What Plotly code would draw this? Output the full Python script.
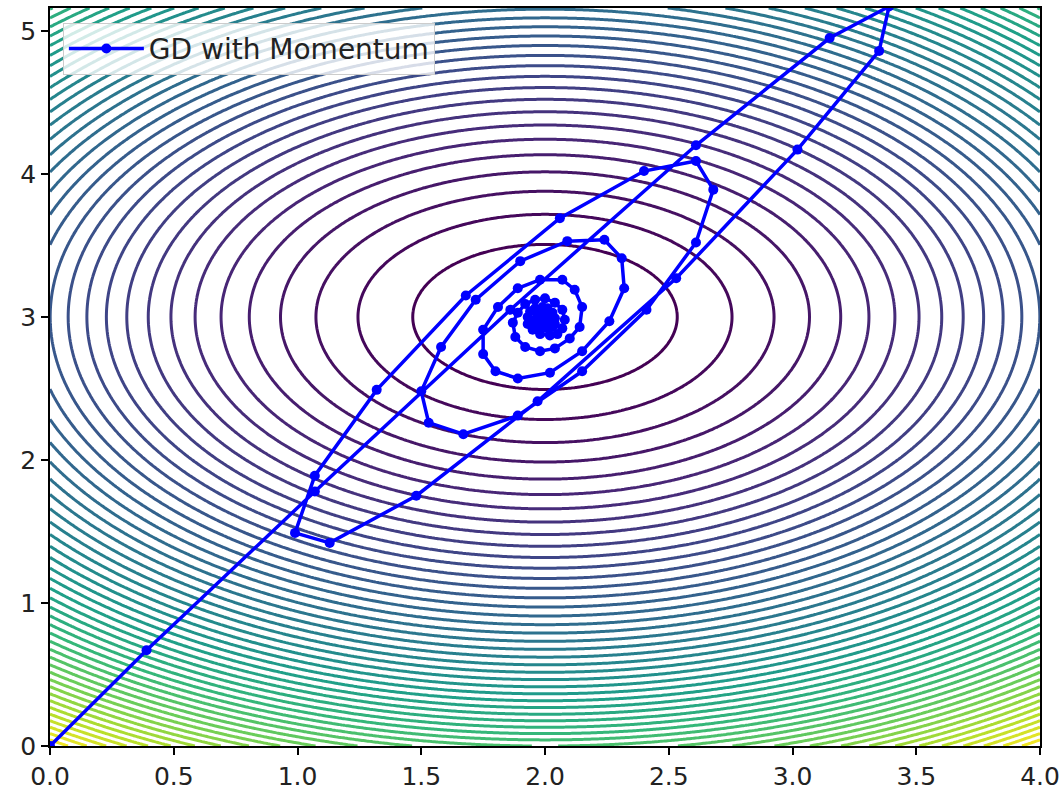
import numpy as np
import plotly.graph_objects as go

# Quadratic bowl f(x, y) = COEF_X*(x-CX)^2 + COEF_Y*(y-CY)^2 shown as contour lines
CX, CY = 2.0, 3.0
COEF_X, COEF_Y = 1.0, 1.11
X_RANGE = [0.0, 4.0]
Y_RANGE = [0.0, 5.16]
N_LEVELS = 50

# Iterates of gradient descent with momentum, starting at the origin
path_x = [0.00, 0.39, 1.07, 1.86, 2.61, 3.15, 3.39, 3.35, 3.02, 2.53,
          1.97, 1.48, 1.13, 0.99, 1.07, 1.32, 1.68, 2.06, 2.40, 2.61,
          2.68, 2.61, 2.41, 2.15, 1.89, 1.67, 1.53, 1.50, 1.58, 1.72,
          1.90, 2.09, 2.24, 2.31, 2.32, 2.26, 2.15, 2.02, 1.89, 1.80,
          1.75, 1.75, 1.81, 1.89, 1.98, 2.07, 2.12, 2.15, 2.14, 2.10,
          2.04, 1.98, 1.92, 1.88, 1.87, 1.89, 1.92, 1.96, 2.00, 2.04,
          2.07, 2.08, 2.07, 2.05, 2.02, 1.98, 1.95, 1.93, 1.93, 1.94,
          1.96, 1.99, 2.01, 2.03, 2.04, 2.04, 2.03, 2.01, 1.98, 1.96,
          1.96, 1.97, 1.99, 2.00, 2.02, 2.02, 2.01, 1.99, 1.98, 1.99]
path_y = [0.00, 0.67, 1.78, 3.05, 4.20, 4.95, 5.17, 4.86, 4.17, 3.27,
          2.41, 1.75, 1.42, 1.49, 1.89, 2.49, 3.15, 3.69, 4.02, 4.09,
          3.89, 3.52, 3.05, 2.62, 2.31, 2.18, 2.26, 2.48, 2.79, 3.12,
          3.39, 3.53, 3.54, 3.41, 3.20, 2.97, 2.76, 2.61, 2.57, 2.62,
          2.74, 2.91, 3.07, 3.20, 3.26, 3.26, 3.19, 3.07, 2.93, 2.85,
          2.78, 2.76, 2.79, 2.86, 2.96, 3.03, 3.09, 3.12, 3.13, 3.10,
          3.05, 2.98, 2.92, 2.88, 2.87, 2.88, 2.91, 2.95, 3.00, 3.04,
          3.06, 3.07, 3.06, 3.03, 2.99, 2.95, 2.93, 2.92, 2.93, 2.95,
          2.98, 3.01, 3.02, 3.02, 3.00, 2.98, 2.96, 2.96, 2.97, 2.99]

x_tick_vals = [0.0, 0.5, 1.0, 1.5, 2.0, 2.5, 3.0, 3.5, 4.0]
x_tick_text = ["0.0", "0.5", "1.0", "1.5", "2.0", "2.5", "3.0", "3.5", "4.0"]
y_tick_vals = [0, 1, 2, 3, 4, 5]
y_tick_text = ["0", "1", "2", "3", "4", "5"]

gx = np.linspace(X_RANGE[0], X_RANGE[1], 320)
gy = np.linspace(Y_RANGE[0], Y_RANGE[1], 320)
GX, GY = np.meshgrid(gx, gy)
Z = COEF_X * (GX - CX) ** 2 + COEF_Y * (GY - CY) ** 2
z_max = float(Z.max())
step = z_max / (N_LEVELS - 1)

FONT = "DejaVu Sans"

fig = go.Figure()
fig.add_trace(go.Contour(
    x=gx, y=gy, z=Z,
    colorscale="Viridis",
    zmin=step, zmax=z_max,
    contours=dict(coloring="lines", start=step, end=z_max, size=step),
    line=dict(width=3),
    showscale=False,
    hoverinfo="skip",
    showlegend=False,
))
fig.add_trace(go.Scatter(
    x=path_x, y=path_y,
    mode="lines+markers",
    name="GD with Momentum",
    showlegend=True,
    line=dict(color="blue", width=3.5),
    marker=dict(color="blue", size=10),
))

axis_common = dict(
    showgrid=False, zeroline=False, automargin=False,
    showline=True, mirror=True, linecolor="black", linewidth=1.5,
    ticks="outside", ticklen=7, tickwidth=1.5, tickcolor="black",
    tickfont=dict(family=FONT, size=25, color="#222222"),
)
fig.update_xaxes(range=X_RANGE, tickvals=x_tick_vals, ticktext=x_tick_text, **axis_common)
fig.update_yaxes(range=Y_RANGE, tickvals=y_tick_vals, ticktext=y_tick_text, **axis_common)

fig.update_layout(
    width=1063, height=792,
    margin=dict(l=50, r=23, t=8, b=46),
    plot_bgcolor="white", paper_bgcolor="white",
    font=dict(family=FONT, size=25, color="#222222"),
    showlegend=True,
    legend=dict(
        x=0.013, y=0.98, xanchor="left", yanchor="top",
        bgcolor="rgba(255,255,255,0.8)",
        bordercolor="#cccccc", borderwidth=1,
        font=dict(family=FONT, size=28, color="#222222"),
        itemwidth=75,
    ),
)

fig.write_html("out.html")
